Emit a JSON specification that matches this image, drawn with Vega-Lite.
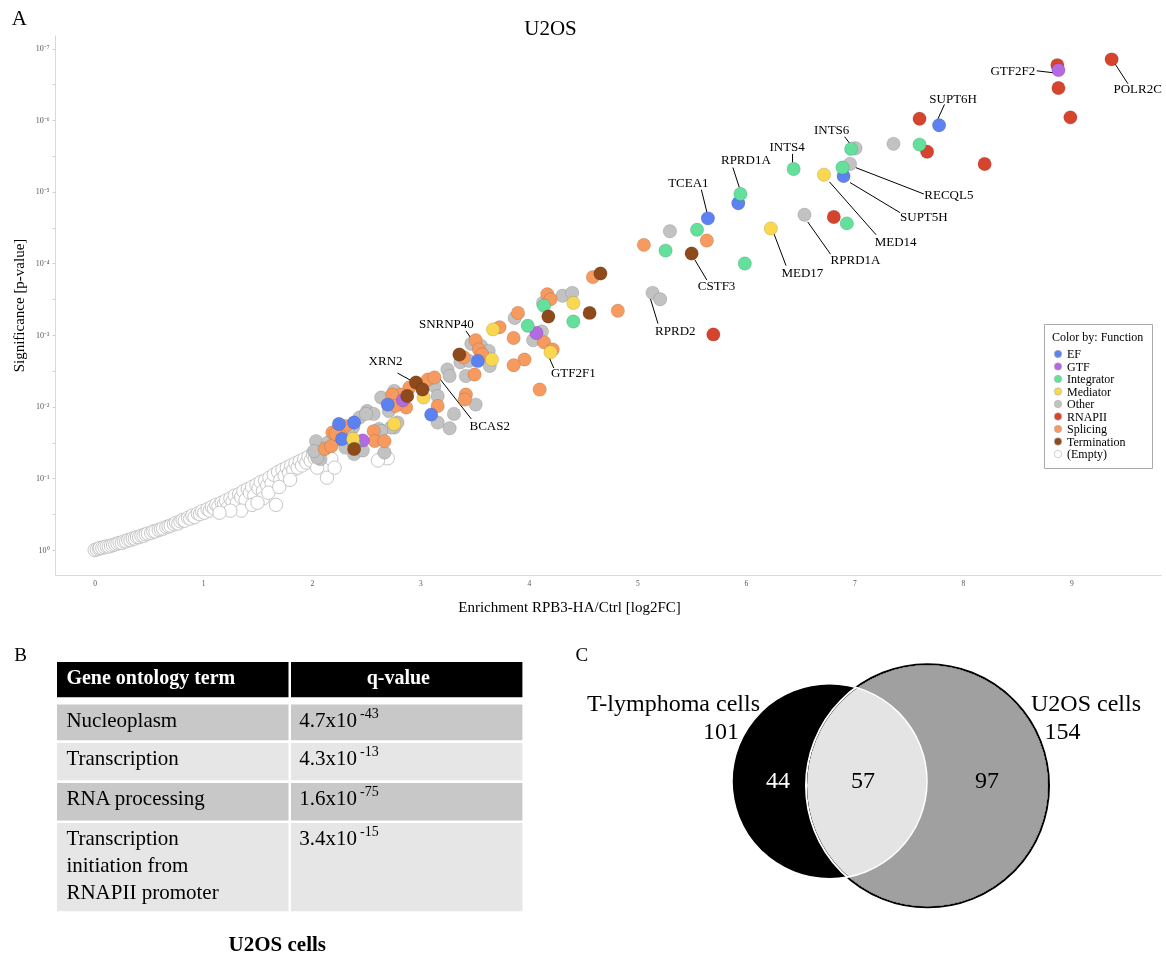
{
  "$schema": "https://vega.github.io/schema/vega-lite/v6.json",
  "background": "white",
  "padding": {"left": 11, "top": 8, "right": 2, "bottom": 2},
  "config": {
    "view": {"stroke": null},
    "font": "Liberation Serif"
  },
  "spacing": 87,
  "bounds": "flush",
  "resolve": {"scale": {"color": "independent"}, "legend": {"color": "independent"}},
  "datasets": {
    "empties": [
      {"fc":0.00,"sig":0.00,"fn":"(Empty)"},{"fc":0.02,"sig":0.01,"fn":"(Empty)"},{"fc":0.04,"sig":0.02,"fn":"(Empty)"},{"fc":0.05,"sig":0.03,"fn":"(Empty)"},{"fc":0.07,"sig":0.03,"fn":"(Empty)"},{"fc":0.09,"sig":0.04,"fn":"(Empty)"},{"fc":0.11,"sig":0.05,"fn":"(Empty)"},{"fc":0.13,"sig":0.05,"fn":"(Empty)"},{"fc":0.15,"sig":0.06,"fn":"(Empty)"},{"fc":0.17,"sig":0.07,"fn":"(Empty)"},
      {"fc":0.19,"sig":0.08,"fn":"(Empty)"},{"fc":0.21,"sig":0.09,"fn":"(Empty)"},{"fc":0.23,"sig":0.10,"fn":"(Empty)"},{"fc":0.25,"sig":0.10,"fn":"(Empty)"},{"fc":0.27,"sig":0.12,"fn":"(Empty)"},{"fc":0.29,"sig":0.12,"fn":"(Empty)"},{"fc":0.31,"sig":0.14,"fn":"(Empty)"},{"fc":0.33,"sig":0.14,"fn":"(Empty)"},{"fc":0.35,"sig":0.16,"fn":"(Empty)"},{"fc":0.37,"sig":0.16,"fn":"(Empty)"},
      {"fc":0.39,"sig":0.18,"fn":"(Empty)"},{"fc":0.41,"sig":0.18,"fn":"(Empty)"},{"fc":0.43,"sig":0.20,"fn":"(Empty)"},{"fc":0.45,"sig":0.20,"fn":"(Empty)"},{"fc":0.47,"sig":0.22,"fn":"(Empty)"},{"fc":0.49,"sig":0.23,"fn":"(Empty)"},{"fc":0.52,"sig":0.24,"fn":"(Empty)"},{"fc":0.54,"sig":0.26,"fn":"(Empty)"},{"fc":0.56,"sig":0.26,"fn":"(Empty)"},{"fc":0.59,"sig":0.28,"fn":"(Empty)"},
      {"fc":0.61,"sig":0.29,"fn":"(Empty)"},{"fc":0.63,"sig":0.30,"fn":"(Empty)"},{"fc":0.66,"sig":0.32,"fn":"(Empty)"},{"fc":0.68,"sig":0.33,"fn":"(Empty)"},{"fc":0.70,"sig":0.34,"fn":"(Empty)"},{"fc":0.73,"sig":0.36,"fn":"(Empty)"},{"fc":0.75,"sig":0.38,"fn":"(Empty)"},{"fc":0.77,"sig":0.37,"fn":"(Empty)"},{"fc":0.79,"sig":0.40,"fn":"(Empty)"},{"fc":0.81,"sig":0.42,"fn":"(Empty)"},
      {"fc":0.83,"sig":0.41,"fn":"(Empty)"},{"fc":0.86,"sig":0.45,"fn":"(Empty)"},{"fc":0.88,"sig":0.44,"fn":"(Empty)"},{"fc":0.90,"sig":0.48,"fn":"(Empty)"},{"fc":0.92,"sig":0.46,"fn":"(Empty)"},{"fc":0.95,"sig":0.51,"fn":"(Empty)"},{"fc":0.97,"sig":0.50,"fn":"(Empty)"},{"fc":0.99,"sig":0.54,"fn":"(Empty)"},{"fc":1.01,"sig":0.52,"fn":"(Empty)"},{"fc":1.04,"sig":0.57,"fn":"(Empty)"},
      {"fc":1.06,"sig":0.55,"fn":"(Empty)"},{"fc":1.08,"sig":0.60,"fn":"(Empty)"},{"fc":1.10,"sig":0.58,"fn":"(Empty)"},{"fc":1.12,"sig":0.63,"fn":"(Empty)"},{"fc":1.14,"sig":0.61,"fn":"(Empty)"},{"fc":1.17,"sig":0.66,"fn":"(Empty)"},{"fc":1.19,"sig":0.64,"fn":"(Empty)"},{"fc":1.21,"sig":0.69,"fn":"(Empty)"},{"fc":1.23,"sig":0.60,"fn":"(Empty)"},{"fc":1.25,"sig":0.72,"fn":"(Empty)"},
      {"fc":1.27,"sig":0.68,"fn":"(Empty)"},{"fc":1.29,"sig":0.76,"fn":"(Empty)"},{"fc":1.31,"sig":0.66,"fn":"(Empty)"},{"fc":1.33,"sig":0.78,"fn":"(Empty)"},{"fc":1.35,"sig":0.74,"fn":"(Empty)"},{"fc":1.37,"sig":0.82,"fn":"(Empty)"},{"fc":1.39,"sig":0.70,"fn":"(Empty)"},{"fc":1.41,"sig":0.85,"fn":"(Empty)"},{"fc":1.43,"sig":0.80,"fn":"(Empty)"},{"fc":1.45,"sig":0.88,"fn":"(Empty)"},
      {"fc":1.47,"sig":0.76,"fn":"(Empty)"},{"fc":1.49,"sig":0.91,"fn":"(Empty)"},{"fc":1.51,"sig":0.86,"fn":"(Empty)"},{"fc":1.53,"sig":0.95,"fn":"(Empty)"},{"fc":1.55,"sig":0.82,"fn":"(Empty)"},{"fc":1.57,"sig":0.97,"fn":"(Empty)"},{"fc":1.59,"sig":0.90,"fn":"(Empty)"},{"fc":1.61,"sig":1.01,"fn":"(Empty)"},{"fc":1.63,"sig":0.93,"fn":"(Empty)"},{"fc":1.65,"sig":1.05,"fn":"(Empty)"},
      {"fc":1.67,"sig":0.63,"fn":"(Empty)"},{"fc":1.69,"sig":1.09,"fn":"(Empty)"},{"fc":1.71,"sig":0.98,"fn":"(Empty)"},{"fc":1.73,"sig":1.12,"fn":"(Empty)"},{"fc":1.75,"sig":1.04,"fn":"(Empty)"},{"fc":1.77,"sig":1.15,"fn":"(Empty)"},{"fc":1.79,"sig":1.08,"fn":"(Empty)"},{"fc":1.81,"sig":1.18,"fn":"(Empty)"},{"fc":1.83,"sig":1.12,"fn":"(Empty)"},{"fc":1.85,"sig":1.21,"fn":"(Empty)"},
      {"fc":1.87,"sig":1.15,"fn":"(Empty)"},{"fc":1.89,"sig":1.24,"fn":"(Empty)"},{"fc":1.91,"sig":1.18,"fn":"(Empty)"},{"fc":1.93,"sig":1.27,"fn":"(Empty)"},{"fc":1.95,"sig":1.22,"fn":"(Empty)"},{"fc":1.97,"sig":1.30,"fn":"(Empty)"},{"fc":1.99,"sig":1.25,"fn":"(Empty)"},{"fc":2.01,"sig":1.34,"fn":"(Empty)"},{"fc":2.03,"sig":1.28,"fn":"(Empty)"},{"fc":2.05,"sig":1.15,"fn":"(Empty)"},
      {"fc":2.07,"sig":1.38,"fn":"(Empty)"},{"fc":2.10,"sig":1.32,"fn":"(Empty)"},{"fc":2.14,"sig":1.01,"fn":"(Empty)"},{"fc":2.18,"sig":1.27,"fn":"(Empty)"},{"fc":2.21,"sig":1.15,"fn":"(Empty)"},{"fc":2.12,"sig":1.42,"fn":"(Empty)"},{"fc":1.35,"sig":0.55,"fn":"(Empty)"},{"fc":1.45,"sig":0.63,"fn":"(Empty)"},{"fc":1.55,"sig":0.72,"fn":"(Empty)"},{"fc":1.50,"sig":0.66,"fn":"(Empty)"},
      {"fc":1.60,"sig":0.80,"fn":"(Empty)"},{"fc":1.70,"sig":0.88,"fn":"(Empty)"},{"fc":1.80,"sig":0.98,"fn":"(Empty)"},{"fc":1.25,"sig":0.55,"fn":"(Empty)"},{"fc":1.15,"sig":0.52,"fn":"(Empty)"},{"fc":2.65,"sig":1.29,"fn":"(Empty)"},{"fc":2.70,"sig":1.28,"fn":"(Empty)"},{"fc":2.61,"sig":1.25,"fn":"(Empty)"}
    ],
    "funcs": [
      {"fc":7.36,"sig":5.67,"fn":"Other"},{"fc":7.01,"sig":5.61,"fn":"Other"},{"fc":6.96,"sig":5.39,"fn":"Other"},{"fc":6.54,"sig":4.68,"fn":"Other"},{"fc":5.30,"sig":4.45,"fn":"Other"},{"fc":5.14,"sig":3.59,"fn":"Other"},{"fc":5.21,"sig":3.50,"fn":"Other"},{"fc":4.13,"sig":3.45,"fn":"Other"},{"fc":4.31,"sig":3.55,"fn":"Other"},{"fc":4.40,"sig":3.59,"fn":"Other"},
      {"fc":3.87,"sig":3.24,"fn":"Other"},{"fc":4.12,"sig":3.05,"fn":"Other"},{"fc":4.04,"sig":2.93,"fn":"Other"},{"fc":3.56,"sig":2.85,"fn":"Other"},{"fc":3.63,"sig":2.78,"fn":"Other"},{"fc":3.47,"sig":2.88,"fn":"Other"},{"fc":3.64,"sig":2.57,"fn":"Other"},{"fc":3.37,"sig":2.62,"fn":"Other"},{"fc":3.45,"sig":2.64,"fn":"Other"},{"fc":3.42,"sig":2.43,"fn":"Other"},
      {"fc":3.25,"sig":2.52,"fn":"Other"},{"fc":3.27,"sig":2.43,"fn":"Other"},{"fc":3.51,"sig":2.03,"fn":"Other"},{"fc":3.31,"sig":1.90,"fn":"Other"},{"fc":3.16,"sig":1.78,"fn":"Other"},{"fc":3.27,"sig":1.70,"fn":"Other"},{"fc":3.13,"sig":2.29,"fn":"Other"},{"fc":3.16,"sig":2.15,"fn":"Other"},{"fc":2.76,"sig":2.22,"fn":"Other"},{"fc":2.64,"sig":2.13,"fn":"Other"},
      {"fc":2.71,"sig":1.94,"fn":"Other"},{"fc":2.51,"sig":1.94,"fn":"Other"},{"fc":2.57,"sig":1.90,"fn":"Other"},{"fc":2.44,"sig":1.85,"fn":"Other"},{"fc":2.50,"sig":1.90,"fn":"Other"},{"fc":2.38,"sig":1.71,"fn":"Other"},{"fc":2.34,"sig":1.62,"fn":"Other"},{"fc":2.39,"sig":1.34,"fn":"Other"},{"fc":2.31,"sig":1.43,"fn":"Other"},{"fc":2.08,"sig":1.27,"fn":"Other"},
      {"fc":2.04,"sig":1.52,"fn":"Other"},{"fc":2.76,"sig":1.71,"fn":"Other"},{"fc":2.79,"sig":1.78,"fn":"Other"},{"fc":2.62,"sig":1.69,"fn":"Other"},{"fc":2.67,"sig":1.36,"fn":"Other"},{"fc":2.47,"sig":1.39,"fn":"Other"},{"fc":2.05,"sig":1.29,"fn":"Other"},{"fc":2.02,"sig":1.38,"fn":"Other"},{"fc":2.73,"sig":1.71,"fn":"Other"},{"fc":2.64,"sig":1.66,"fn":"Other"},
      {"fc":2.15,"sig":1.50,"fn":"Other"},
      {"fc":5.64,"sig":4.32,"fn":"Splicing"},{"fc":5.06,"sig":4.26,"fn":"Splicing"},{"fc":4.82,"sig":3.34,"fn":"Splicing"},{"fc":4.59,"sig":3.81,"fn":"Splicing"},{"fc":4.17,"sig":3.57,"fn":"Splicing"},{"fc":4.20,"sig":3.50,"fn":"Splicing"},{"fc":3.90,"sig":3.31,"fn":"Splicing"},{"fc":3.73,"sig":3.11,"fn":"Splicing"},{"fc":3.86,"sig":2.96,"fn":"Splicing"},{"fc":4.14,"sig":2.90,"fn":"Splicing"},
      {"fc":4.22,"sig":2.80,"fn":"Splicing"},{"fc":3.96,"sig":2.66,"fn":"Splicing"},{"fc":3.86,"sig":2.58,"fn":"Splicing"},{"fc":4.10,"sig":2.24,"fn":"Splicing"},{"fc":3.51,"sig":2.93,"fn":"Splicing"},{"fc":3.54,"sig":2.80,"fn":"Splicing"},{"fc":3.57,"sig":2.73,"fn":"Splicing"},{"fc":3.40,"sig":2.69,"fn":"Splicing"},{"fc":3.50,"sig":2.45,"fn":"Splicing"},{"fc":3.42,"sig":2.17,"fn":"Splicing"},
      {"fc":3.41,"sig":2.10,"fn":"Splicing"},{"fc":3.16,"sig":2.01,"fn":"Splicing"},{"fc":3.07,"sig":2.38,"fn":"Splicing"},{"fc":3.13,"sig":2.41,"fn":"Splicing"},{"fc":2.90,"sig":2.27,"fn":"Splicing"},{"fc":2.82,"sig":2.17,"fn":"Splicing"},{"fc":2.74,"sig":2.17,"fn":"Splicing"},{"fc":2.87,"sig":1.99,"fn":"Splicing"},{"fc":2.77,"sig":2.01,"fn":"Splicing"},{"fc":2.31,"sig":1.73,"fn":"Splicing"},
      {"fc":2.19,"sig":1.64,"fn":"Splicing"},{"fc":2.27,"sig":1.59,"fn":"Splicing"},{"fc":2.12,"sig":1.41,"fn":"Splicing"},{"fc":2.57,"sig":1.66,"fn":"Splicing"},{"fc":2.58,"sig":1.52,"fn":"Splicing"},{"fc":2.67,"sig":1.52,"fn":"Splicing"},{"fc":2.24,"sig":1.55,"fn":"Splicing"},{"fc":2.18,"sig":1.45,"fn":"Splicing"},{"fc":2.22,"sig":1.62,"fn":"Splicing"},
      {"fc":9.37,"sig":6.85,"fn":"RNAPII"},{"fc":8.87,"sig":6.77,"fn":"RNAPII"},{"fc":8.88,"sig":6.45,"fn":"RNAPII"},{"fc":8.99,"sig":6.04,"fn":"RNAPII"},{"fc":7.60,"sig":6.02,"fn":"RNAPII"},{"fc":7.67,"sig":5.56,"fn":"RNAPII"},{"fc":8.20,"sig":5.39,"fn":"RNAPII"},{"fc":6.81,"sig":4.65,"fn":"RNAPII"},{"fc":5.70,"sig":3.01,"fn":"RNAPII"},
      {"fc":8.88,"sig":6.70,"fn":"GTF"},{"fc":4.07,"sig":3.03,"fn":"GTF"},{"fc":2.84,"sig":2.09,"fn":"GTF"},{"fc":2.47,"sig":1.53,"fn":"GTF"},
      {"fc":7.78,"sig":5.93,"fn":"EF"},{"fc":6.90,"sig":5.22,"fn":"EF"},{"fc":5.93,"sig":4.84,"fn":"EF"},{"fc":5.65,"sig":4.63,"fn":"EF"},{"fc":3.53,"sig":2.64,"fn":"EF"},{"fc":3.10,"sig":1.89,"fn":"EF"},{"fc":2.70,"sig":2.03,"fn":"EF"},{"fc":2.25,"sig":1.76,"fn":"EF"},{"fc":2.39,"sig":1.78,"fn":"EF"},{"fc":2.28,"sig":1.55,"fn":"EF"},
      {"fc":7.60,"sig":5.66,"fn":"Integrator"},{"fc":6.97,"sig":5.60,"fn":"Integrator"},{"fc":6.44,"sig":5.32,"fn":"Integrator"},{"fc":6.89,"sig":5.34,"fn":"Integrator"},{"fc":5.95,"sig":4.97,"fn":"Integrator"},{"fc":6.93,"sig":4.56,"fn":"Integrator"},{"fc":5.99,"sig":4.00,"fn":"Integrator"},{"fc":5.55,"sig":4.47,"fn":"Integrator"},{"fc":5.26,"sig":4.18,"fn":"Integrator"},{"fc":4.14,"sig":3.41,"fn":"Integrator"},
      {"fc":4.41,"sig":3.19,"fn":"Integrator"},{"fc":3.99,"sig":3.13,"fn":"Integrator"},{"fc":2.39,"sig":1.48,"fn":"Integrator"},
      {"fc":6.72,"sig":5.24,"fn":"Mediator"},{"fc":6.23,"sig":4.49,"fn":"Mediator"},{"fc":4.41,"sig":3.45,"fn":"Mediator"},{"fc":3.67,"sig":3.08,"fn":"Mediator"},{"fc":4.20,"sig":2.76,"fn":"Mediator"},{"fc":3.66,"sig":2.66,"fn":"Mediator"},{"fc":3.03,"sig":2.13,"fn":"Mediator"},{"fc":2.38,"sig":1.55,"fn":"Mediator"},{"fc":2.76,"sig":1.76,"fn":"Mediator"},
      {"fc":5.50,"sig":4.14,"fn":"Termination"},{"fc":4.66,"sig":3.86,"fn":"Termination"},{"fc":4.18,"sig":3.26,"fn":"Termination"},{"fc":4.56,"sig":3.31,"fn":"Termination"},{"fc":3.36,"sig":2.73,"fn":"Termination"},{"fc":2.96,"sig":2.34,"fn":"Termination"},{"fc":3.02,"sig":2.24,"fn":"Termination"},{"fc":2.88,"sig":2.15,"fn":"Termination"},{"fc":2.39,"sig":1.41,"fn":"Termination"}
    ],
    "callouts": [
      {"gene":"POLR2C","fc":9.40,"sig":6.79,"fc2":9.52,"sig2":6.51},
      {"gene":"GTF2F2","fc":8.68,"sig":6.69,"fc2":8.85,"sig2":6.66},
      {"gene":"SUPT6H","fc":7.83,"sig":6.22,"fc2":7.77,"sig2":6.02},
      {"gene":"INTS6","fc":6.91,"sig":5.77,"fc2":6.96,"sig2":5.67},
      {"gene":"INTS4","fc":6.43,"sig":5.53,"fc2":6.43,"sig2":5.41},
      {"gene":"RECQL5","fc":7.01,"sig":5.34,"fc2":7.64,"sig2":4.97},
      {"gene":"SUPT5H","fc":6.96,"sig":5.13,"fc2":7.42,"sig2":4.71},
      {"gene":"MED14","fc":6.77,"sig":5.14,"fc2":7.20,"sig2":4.40},
      {"gene":"RPRD1A","fc":5.88,"sig":5.34,"fc2":5.94,"sig2":5.06},
      {"gene":"TCEA1","fc":5.59,"sig":5.03,"fc2":5.64,"sig2":4.72},
      {"gene":"RPRD1A","fc":6.57,"sig":4.58,"fc2":6.78,"sig2":4.13},
      {"gene":"MED17","fc":6.26,"sig":4.41,"fc2":6.37,"sig2":3.97},
      {"gene":"CSTF3","fc":5.53,"sig":4.05,"fc2":5.64,"sig2":3.77},
      {"gene":"RPRD2","fc":5.12,"sig":3.51,"fc2":5.19,"sig2":3.16},
      {"gene":"SNRNP40","fc":3.42,"sig":3.06,"fc2":3.53,"sig2":2.82},
      {"gene":"GTF2F1","fc":4.09,"sig":3.02,"fc2":4.23,"sig2":2.54},
      {"gene":"XRN2","fc":2.79,"sig":2.47,"fc2":2.97,"sig2":2.32},
      {"gene":"BCAS2","fc":3.18,"sig":2.39,"fc2":3.47,"sig2":1.83}
    ],
    "tags": [
      {"gene":"POLR2C","fc":9.61,"sig":6.44},
      {"gene":"GTF2F2","fc":8.46,"sig":6.69},
      {"gene":"SUPT6H","fc":7.91,"sig":6.30},
      {"gene":"INTS6","fc":6.79,"sig":5.87},
      {"gene":"INTS4","fc":6.38,"sig":5.63},
      {"gene":"RECQL5","fc":7.87,"sig":4.96},
      {"gene":"SUPT5H","fc":7.64,"sig":4.65},
      {"gene":"MED14","fc":7.38,"sig":4.30},
      {"gene":"RPRD1A","fc":6.00,"sig":5.45},
      {"gene":"TCEA1","fc":5.47,"sig":5.13},
      {"gene":"RPRD1A","fc":7.01,"sig":4.05},
      {"gene":"MED17","fc":6.52,"sig":3.87},
      {"gene":"CSTF3","fc":5.73,"sig":3.69},
      {"gene":"RPRD2","fc":5.35,"sig":3.06},
      {"gene":"SNRNP40","fc":3.24,"sig":3.16},
      {"gene":"GTF2F1","fc":4.41,"sig":2.47},
      {"gene":"XRN2","fc":2.68,"sig":2.64},
      {"gene":"BCAS2","fc":3.64,"sig":1.73}
    ],
    "heads": [
      {"fc": -0.765, "sig": 7.41, "label": "A", "kind": "panel"},
      {"fc": 4.20, "sig": 7.277, "label": "U2OS", "kind": "title"}
    ],
    "cells": [
      {"row":"header","col":"term","left":2,"right":233.5,"top":0,"bottom":35.3,"shade":"header","text":"Gene ontology term"},
      {"row":"header","col":"q","left":236,"right":467.4,"top":0,"bottom":35.3,"shade":"header","text":"q-value"},
      {"row":"r1","col":"term","left":2,"right":233.5,"top":42.6,"bottom":78.3,"shade":"dark","text":"Nucleoplasm"},
      {"row":"r1","col":"q","left":236,"right":467.4,"top":42.6,"bottom":78.3,"shade":"dark","text":"4.7x10","exp":"-43"},
      {"row":"r2","col":"term","left":2,"right":233.5,"top":81,"bottom":118.3,"shade":"light","text":"Transcription"},
      {"row":"r2","col":"q","left":236,"right":467.4,"top":81,"bottom":118.3,"shade":"light","text":"4.3x10","exp":"-13"},
      {"row":"r3","col":"term","left":2,"right":233.5,"top":121,"bottom":158.6,"shade":"dark","text":"RNA processing"},
      {"row":"r3","col":"q","left":236,"right":467.4,"top":121,"bottom":158.6,"shade":"dark","text":"1.6x10","exp":"-75"},
      {"row":"r4","col":"term","left":2,"right":233.5,"top":161,"bottom":249.3,"shade":"light","text":"Transcription\ninitiation from\nRNAPII promoter"},
      {"row":"r4","col":"q","left":236,"right":467.4,"top":161,"bottom":249.3,"shade":"light","text":"3.4x10","exp":"-15"},
      {"row":"caption","col":"caption","left":222.3,"top":282.6,"text":"U2OS cells"},
      {"row":"panel","col":"panel","left":-40.7,"top":-7.4,"text":"B"}
    ],
    "venn": [
      {"set":"T-lymphoma cells","total":101,"cx":251.5,"cy":119.3},
      {"set":"U2OS cells","total":154,"cx":349.5,"cy":123.8}
    ],
    "venntext": [
      {"t":"T-lymphoma cells","cx":182,"cy":42,"pos":"right","tone":"black"},
      {"t":"101","cx":161,"cy":70.3,"pos":"right","tone":"black"},
      {"t":"U2OS cells","cx":453,"cy":42,"pos":"left","tone":"black"},
      {"t":"154","cx":466.5,"cy":70.3,"pos":"left","tone":"black"},
      {"t":"44","cx":200,"cy":118.7,"pos":"center","tone":"white"},
      {"t":"57","cx":285,"cy":118.7,"pos":"center","tone":"black"},
      {"t":"97","cx":409,"cy":118.7,"pos":"center","tone":"black"},
      {"t":"C","cx":-2.5,"cy":-7.4,"pos":"panel","tone":"black"}
    ]
  },
  "vconcat": [
    {
      "width": 1106,
      "height": 540,
      "encoding": {
        "x": {"field": "fc", "type": "quantitative",
          "scale": {"domain": [-0.366, 9.825], "nice": false, "zero": false},
          "axis": {"title": "Enrichment RPB3-HA/Ctrl [log2FC]", "values": [0,1,2,3,4,5,6,7,8,9], "format": "d", "ticks": false, "grid": false,
            "labelFont": "Liberation Serif", "labelFontSize": 7.5, "labelColor": "#555", "labelPadding": 4,
            "domainColor": "#d9d9d9", "domainWidth": 1,
            "titleFont": "Liberation Serif", "titleFontSize": 15, "titleFontWeight": "normal", "titleColor": "#000", "titlePadding": 13, "titleX": 514}},
        "y": {"field": "sig", "type": "quantitative",
          "scale": {"domain": [-0.349, 7.19], "nice": false, "zero": false},
          "axis": {"title": "Significance [p-value]", "values": [0,0.5,1,1.5,2,2.5,3,3.5,4,4.5,5,5.5,6,6.5,7], "grid": false,
            "labelExpr": "datum.value % 1 === 0 ? '10' + ['⁰','⁻¹','⁻²','⁻³','⁻⁴','⁻⁵','⁻⁶','⁻⁷'][datum.value] : ''",
            "labelFont": "Liberation Serif", "labelFontSize": 8, "labelColor": "#555", "labelPadding": 3,
            "tickColor": "#cfcfcf", "tickSize": 3, "domainColor": "#d9d9d9", "domainWidth": 1,
            "titleFont": "Liberation Serif", "titleFontSize": 15, "titleFontWeight": "normal", "titleColor": "#000", "titlePadding": 9}}
      },
      "layer": [
        {
          "data": {"name": "empties"},
          "mark": {"type": "point", "shape": "circle", "filled": true, "size": 180, "stroke": "#c6c6c6", "strokeWidth": 1, "opacity": 1},
          "encoding": {
            "color": {"field": "fn", "type": "nominal",
              "scale": {"domain": ["EF","GTF","Integrator","Mediator","Other","RNAPII","Splicing","Termination","(Empty)"],
                        "range": ["#5c82f2","#b36ae2","#62e09c","#fad750","#c2c2c2","#d6442d","#f79a5f","#8f4a1c","#ffffff"]},
              "legend": {"title": "Color by: Function", "orient": "none", "legendX": 989, "legendY": 289,
                "strokeColor": "#aaaaaa", "fillColor": "#ffffff", "padding": 8,
                "titleFont": "Liberation Serif", "titleFontSize": 12, "titleFontWeight": "normal", "titleColor": "#000", "titlePadding": 4,
                "labelFont": "Liberation Serif", "labelFontSize": 12, "labelColor": "#000", "labelOffset": 3,
                "symbolType": "circle", "symbolSize": 55, "symbolStrokeColor": "#b0b0b0", "symbolStrokeWidth": 0.6, "symbolOpacity": 1, "rowPadding": 0.5}}
          }
        },
        {
          "data": {"name": "callouts"},
          "mark": {"type": "rule", "color": "#000", "strokeWidth": 1},
          "encoding": {"x2": {"field": "fc2"}, "y2": {"field": "sig2"}}
        },
        {
          "data": {"name": "funcs"},
          "mark": {"type": "point", "shape": "circle", "filled": true, "size": 180, "stroke": "#000", "strokeOpacity": 0.15, "strokeWidth": 0.8, "opacity": 1},
          "encoding": {
            "color": {"field": "fn", "type": "nominal",
              "scale": {"domain": ["EF","GTF","Integrator","Mediator","Other","RNAPII","Splicing","Termination","(Empty)"],
                        "range": ["#5c82f2","#b36ae2","#62e09c","#fad750","#c2c2c2","#d6442d","#f79a5f","#8f4a1c","#ffffff"]},
              "legend": {"title": "Color by: Function", "orient": "none", "legendX": 989, "legendY": 289,
                "strokeColor": "#aaaaaa", "fillColor": "#ffffff", "padding": 8,
                "titleFont": "Liberation Serif", "titleFontSize": 12, "titleFontWeight": "normal", "titleColor": "#000", "titlePadding": 4,
                "labelFont": "Liberation Serif", "labelFontSize": 12, "labelColor": "#000", "labelOffset": 3,
                "symbolType": "circle", "symbolSize": 55, "symbolStrokeColor": "#b0b0b0", "symbolStrokeWidth": 0.6, "symbolOpacity": 1, "rowPadding": 0.5}}
          }
        },
        {
          "data": {"name": "tags"},
          "mark": {"type": "text", "font": "Liberation Serif", "fontSize": 13, "color": "#000", "align": "center", "baseline": "middle"},
          "encoding": {"text": {"field": "gene"}}
        },
        {
          "data": {"name": "heads"},
          "transform": [{"filter": "datum.kind == 'panel'"}],
          "mark": {"type": "text", "font": "Liberation Serif", "fontSize": 21, "color": "#000", "align": "left", "baseline": "middle"},
          "encoding": {"text": {"field": "label"}}
        },
        {
          "data": {"name": "heads"},
          "transform": [{"filter": "datum.kind == 'title'"}],
          "mark": {"type": "text", "font": "Liberation Serif", "fontSize": 21, "color": "#000", "align": "center", "baseline": "middle"},
          "encoding": {"text": {"field": "label"}}
        }
      ]
    },
    {
      "hconcat": [
        {
          "width": 470,
          "height": 250,
          "data": {"name": "cells"},
          "encoding": {
            "x": {"field": "left", "type": "quantitative", "scale": {"domain": [0, 470], "nice": false, "zero": false}, "axis": null},
            "y": {"field": "top", "type": "quantitative", "scale": {"domain": [0, 250], "nice": false, "zero": false, "reverse": true}, "axis": null}
          },
          "layer": [
            {
              "transform": [{"filter": "datum.shade != null"}],
              "mark": {"type": "rect"},
              "encoding": {
                "x2": {"field": "right"}, "y2": {"field": "bottom"},
                "color": {"field": "shade", "type": "nominal", "scale": {"domain": ["header","dark","light"], "range": ["#000000","#c8c8c8","#e6e6e6"]}, "legend": null}
              }
            },
            {
              "transform": [{"filter": "datum.col == 'term' && datum.row != 'header'"}],
              "mark": {"type": "text", "font": "Liberation Serif", "fontSize": 21, "color": "#000", "align": "left", "baseline": "top", "dx": 9.4, "dy": 5, "lineBreak": "\n", "lineHeight": 27},
              "encoding": {"text": {"field": "text"}}
            },
            {
              "transform": [{"filter": "datum.col == 'q' && datum.row != 'header'"}],
              "mark": {"type": "text", "font": "Liberation Serif", "fontSize": 21, "color": "#000", "align": "left", "baseline": "top", "dx": 8.2, "dy": 5},
              "encoding": {"text": {"field": "text"}}
            },
            {
              "transform": [{"filter": "datum.col == 'q' && datum.row != 'header'"}],
              "mark": {"type": "text", "font": "Liberation Serif", "fontSize": 14, "color": "#000", "align": "left", "baseline": "top", "dx": 69, "dy": 2},
              "encoding": {"text": {"field": "exp"}}
            },
            {
              "transform": [{"filter": "datum.col == 'term' && datum.row == 'header'"}],
              "mark": {"type": "text", "font": "Liberation Serif", "fontSize": 20, "fontWeight": "bold", "color": "#ffffff", "align": "left", "baseline": "top", "dx": 9.4, "dy": 6},
              "encoding": {"text": {"field": "text"}}
            },
            {
              "transform": [{"filter": "datum.col == 'q' && datum.row == 'header'"}],
              "mark": {"type": "text", "font": "Liberation Serif", "fontSize": 20, "fontWeight": "bold", "color": "#ffffff", "align": "center", "baseline": "top", "dx": 107.3, "dy": 6},
              "encoding": {"text": {"field": "text"}}
            },
            {
              "transform": [{"filter": "datum.row == 'caption'"}],
              "mark": {"type": "text", "font": "Liberation Serif", "fontSize": 21, "fontWeight": "bold", "color": "#000", "align": "center", "baseline": "middle"},
              "encoding": {"text": {"field": "text"}}
            },
            {
              "transform": [{"filter": "datum.row == 'panel'"}],
              "mark": {"type": "text", "font": "Liberation Serif", "fontSize": 19, "color": "#000", "align": "left", "baseline": "middle"},
              "encoding": {"text": {"field": "text"}}
            }
          ]
        },
        {
          "width": 560,
          "height": 250,
          "encoding": {
            "x": {"field": "cx", "type": "quantitative", "scale": {"domain": [0, 560], "nice": false, "zero": false}, "axis": null},
            "y": {"field": "cy", "type": "quantitative", "scale": {"domain": [0, 250], "nice": false, "zero": false, "reverse": true}, "axis": null}
          },
          "layer": [
            {
              "data": {"name": "venn"},
              "transform": [{"filter": "datum.set == 'U2OS cells'"}],
              "mark": {"type": "point", "shape": "circle", "filled": false, "stroke": "#000000", "strokeWidth": 2, "opacity": 1},
              "encoding": {"size": {"field": "total", "type": "quantitative", "scale": {"type": "linear", "domain": [101, 154], "range": [38025, 59049]}, "legend": null}}
            },
            {
              "data": {"name": "venn"},
              "transform": [{"filter": "datum.set == 'T-lymphoma cells'"}],
              "mark": {"type": "circle", "fill": "#ffffff", "blend": "difference", "opacity": 1, "strokeWidth": 0},
              "encoding": {"size": {"field": "total", "type": "quantitative", "scale": {"type": "linear", "domain": [101, 154], "range": [38025, 59049]}, "legend": null}}
            },
            {
              "data": {"name": "venn"},
              "transform": [{"filter": "datum.set == 'U2OS cells'"}],
              "mark": {"type": "circle", "fill": "#e4e4e4", "blend": "difference", "opacity": 1, "strokeWidth": 0},
              "encoding": {"size": {"field": "total", "type": "quantitative", "scale": {"type": "linear", "domain": [101, 154], "range": [37056, 58081]}, "legend": null}}
            },
            {
              "data": {"name": "venn"},
              "transform": [{"filter": "datum.set == 'U2OS cells'"}],
              "mark": {"type": "circle", "fill": "#a0a0a0", "blend": "lighten", "opacity": 1, "strokeWidth": 0},
              "encoding": {"size": {"field": "total", "type": "quantitative", "scale": {"type": "linear", "domain": [101, 154], "range": [37056, 58081]}, "legend": null}}
            },
            {
              "data": {"name": "venn"},
              "transform": [{"filter": "datum.set == 'T-lymphoma cells'"}],
              "mark": {"type": "point", "shape": "circle", "filled": false, "stroke": "#ffffff", "strokeWidth": 1.5, "opacity": 1},
              "encoding": {"size": {"field": "total", "type": "quantitative", "scale": {"type": "linear", "domain": [101, 154], "range": [38025, 59049]}, "legend": null}}
            },
            {
              "data": {"name": "venntext"},
              "transform": [{"filter": "datum.pos == 'right'"}],
              "mark": {"type": "text", "font": "Liberation Serif", "fontSize": 24, "color": "#000", "align": "right", "baseline": "middle"},
              "encoding": {"text": {"field": "t"}}
            },
            {
              "data": {"name": "venntext"},
              "transform": [{"filter": "datum.pos == 'left'"}],
              "mark": {"type": "text", "font": "Liberation Serif", "fontSize": 24, "color": "#000", "align": "left", "baseline": "middle"},
              "encoding": {"text": {"field": "t"}}
            },
            {
              "data": {"name": "venntext"},
              "transform": [{"filter": "datum.pos == 'center' && datum.tone == 'black'"}],
              "mark": {"type": "text", "font": "Liberation Serif", "fontSize": 24, "color": "#000", "align": "center", "baseline": "middle"},
              "encoding": {"text": {"field": "t"}}
            },
            {
              "data": {"name": "venntext"},
              "transform": [{"filter": "datum.pos == 'center' && datum.tone == 'white'"}],
              "mark": {"type": "text", "font": "Liberation Serif", "fontSize": 24, "color": "#ffffff", "align": "center", "baseline": "middle"},
              "encoding": {"text": {"field": "t"}}
            },
            {
              "data": {"name": "venntext"},
              "transform": [{"filter": "datum.pos == 'panel'"}],
              "mark": {"type": "text", "font": "Liberation Serif", "fontSize": 19, "color": "#000", "align": "left", "baseline": "middle"},
              "encoding": {"text": {"field": "t"}}
            }
          ],
          "resolve": {"scale": {"size": "independent"}}
        }
      ],
      "spacing": 53,
      "bounds": "flush",
      "resolve": {"scale": {"color": "independent"}, "legend": {"color": "independent"}}
    }
  ]
}
